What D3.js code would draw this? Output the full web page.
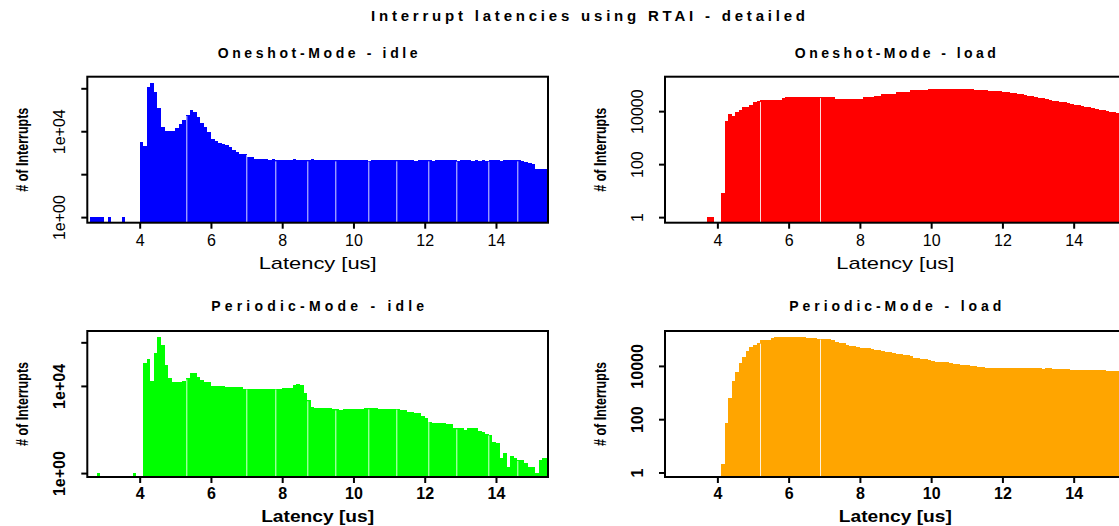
<!DOCTYPE html>
<html>
<head>
<meta charset="utf-8">
<script src="https://cdn.jsdelivr.net/npm/d3@7"></script>
<style>
  body { margin: 0; background: #fff; }
  svg { display: block; }
  text { font-family: "Liberation Sans", Arial, sans-serif; fill: #000; }
</style>
</head>
<body>
<svg></svg>
<script>
const binWidth = 0.1
const xDomain = [2.53, 15.46]
const xTicks = [4, 6, 8, 10, 12, 14]

const oneshotIdleStart = 2.6
const oneshotIdleCounts = [
  1, 1, 1, 1, 0, 1, 0, 0, 0, 1, 0, 0, 0, 0,
  3200, 2000, 1190000, 1800000, 690000, 117000, 15000, 10000, 10000, 10000,
  13600, 21000, 33000, 57000, 98000, 81000, 48000, 25000, 15000, 9500,
  4300, 3600, 2900, 2500, 2200, 1780, 1320, 1100, 870, 870,
  600, 600, 525, 525, 525, 525, 470, 525, 440, 440,
  440, 440, 440, 520, 440, 440, 440, 440, 520, 440,
  440, 450, 440, 440, 440, 440, 440, 440, 440, 440,
  440, 440, 440, 440, 430, 440, 440, 440, 440, 440,
  440, 440, 440, 440, 440, 440, 440, 425, 440, 440,
  440, 440, 425, 440, 440, 440, 440, 440, 440, 425,
  440, 440, 440, 425, 440, 430, 440, 425, 440, 440,
  440, 425, 440, 440, 440, 440, 440, 400, 370, 330,
  300, 178, 178, 178, 178]

const oneshotLoadStart = 3.7
const oneshotLoadCounts = [
  1, 1, 0, 0, 8, 4100, 7900, 6300, 8900, 11000, 13800, 14800, 17800,
  21400, 24000, 26300, 26300, 26300, 26300, 26300, 26300, 30200, 33900,
  33900, 33900, 33900, 33900, 33900, 33900, 33900, 33900, 33900, 33900,
  33900, 33900, 33900, 28800, 28800, 28800, 28800, 28800, 28800, 28800,
  28800, 33900, 33900, 33900, 38900, 38900, 42700, 42700, 42700, 42700,
  51300, 51300, 51300, 51300, 60300, 60300, 60300, 60300, 60300, 69200,
  69200, 69200, 69200, 69200, 69200, 69200, 69200, 69200, 69200, 69200,
  69200, 69200, 63100, 63100, 63100, 63100, 56200, 56200, 56200, 56200,
  53700, 51300, 49000, 46800, 44700, 42700, 39800, 38000, 36300, 34700,
  32400, 30900, 28800, 26900, 25100, 24000, 22400, 21400, 20000, 19100,
  17800, 16600, 15800, 14800, 13800, 12900, 12000, 11200, 10700, 10000,
  9550, 9120, 8510, 8130, 7760]

const periodicIdleStart = 2.8
const periodicIdleCounts = [
  1, 0, 0, 0, 0, 0, 0, 0, 0, 0, 1, 0, 0,
  115000, 180000, 16500, 340000, 1800000, 740000, 89000, 24000, 15000,
  15000, 15000, 16500, 22000, 40000, 40000, 24500, 18000, 14500, 14500,
  10000, 10000, 10000, 10000, 8500, 8500, 8500, 8500, 8500, 7600,
  7600, 7600, 7600, 7600, 7600, 7600, 7600, 7600, 7600, 7600,
  8000, 8000, 8000, 11000, 12000, 10500, 4600, 2200, 1100, 930,
  930, 930, 930, 930, 830, 830, 800, 830, 830, 870,
  830, 830, 830, 930, 930, 930, 930, 910, 910, 830,
  910, 910, 910, 780, 780, 650, 650, 550, 550, 420,
  320, 230, 205, 205, 205, 205, 180, 180, 112, 112,
  112, 95, 112, 112, 112, 89, 80, 59, 55, 27,
  23, 5, 8, 2, 6, 5, 4, 4, 3, 2,
  2, 1, 4, 5, 5]

const periodicLoadStart = 4.1
const periodicLoadCounts = [
  2, 71, 640, 2600, 6000, 13000, 21000, 36000, 50000,
  60000, 74000, 93000, 93000, 93000, 115000, 124000, 124000, 124000, 124000,
  124000, 124000, 124000, 124000, 124000, 110000, 110000, 110000, 105000, 100000,
  100000, 100000, 95000, 80000, 74000, 70000, 60000, 56000, 56000, 53000,
  48000, 48000, 45000, 42000, 40000, 38000, 35000, 33000, 33000, 31000,
  28000, 27000, 26000, 25000, 24000, 20000, 19000, 18000, 17500, 16500,
  15000, 14500, 14000, 14000, 13500, 13000, 12000, 11500, 11000, 11000,
  10500, 10000, 9500, 9100, 8900, 8500, 8300, 8100, 8100, 8100,
  8100, 8100, 8100, 8100, 8100, 8100, 8100, 8100, 8100, 8100,
  8100, 7900, 8000, 8000, 7800, 7800, 7800, 7800, 7700, 7100,
  7100, 7100, 7100, 7100, 6900, 6900, 6900, 6900, 6900, 6600,
  6600, 6600, 6600, 6600, 6600]

// thin light seams visible inside the filled bars
const idleSeams = [5.30, 6.98, 7.80, 8.71, 9.50, 10.41, 11.20, 12.09, 12.90, 13.79, 14.60]
const loadSeams = [5.19, 6.89]

const oneshotIdleTicks = [1, 1e2, 1e4, 1e6]
const oneshotIdleLabels = ["1e+00", "", "1e+04", ""]
const periodicIdleTicks = [1, 1e4, 1e6]
const periodicIdleLabels = ["1e+00", "1e+04", ""]
const loadTicks = [1, 100, 10000]
const loadLabels = ["1", "100", "10000"]

const W = 460.7
const H = 146

const panels = [
  { title: "Oneshot-Mode - idle", start: oneshotIdleStart, counts: oneshotIdleCounts, seams: idleSeams,
    color: "#0000ff", left: 87.3, top: 76.7, logDom: [-0.26, 6.54], ticks: oneshotIdleTicks, labels: oneshotIdleLabels, bold: false, titleLen: 200 },
  { title: "Oneshot-Mode - load", start: oneshotLoadStart, counts: oneshotLoadCounts, seams: loadSeams,
    color: "#ff0000", left: 665, top: 76.7, logDom: [-0.21, 5.3], ticks: loadTicks, labels: loadLabels, bold: false, titleLen: 201 },
  { title: "Periodic-Mode - idle", start: periodicIdleStart, counts: periodicIdleCounts, seams: idleSeams,
    color: "#00ff00", left: 87.3, top: 331, logDom: [-0.18, 6.52], ticks: periodicIdleTicks, labels: periodicIdleLabels, bold: true, titleLen: 213 },
  { title: "Periodic-Mode - load", start: periodicLoadStart, counts: periodicLoadCounts, seams: loadSeams,
    color: "#ffa500", left: 665, top: 331, logDom: [-0.17, 5.31], ticks: loadTicks, labels: loadLabels, bold: true, titleLen: 212 }
]

const svg = d3.select("svg")
  .attr("width", 1119)
  .attr("height", 526)

svg.append("text")
  .attr("x", 588)
  .attr("y", 21)
  .attr("text-anchor", "middle")
  .attr("font-size", 15)
  .attr("font-weight", "bold")
  .attr("textLength", 434)
  .attr("lengthAdjust", "spacing")
  .text("Interrupt latencies using RTAI - detailed")

const x = d3.scaleLinear().domain(xDomain).range([0, W])

panels.forEach((p, k) => {
  const y = d3.scaleLog().domain([10 ** p.logDom[0], 10 ** p.logDom[1]]).range([H, 0])
  const g = svg.append("g").attr("transform", `translate(${p.left},${p.top})`)

  g.append("clipPath").attr("id", "clip" + k)
    .append("rect").attr("width", W).attr("height", H)

  const bins = p.counts
    .map((c, i) => ({ x0: p.start + i * binWidth, c }))
    .filter(d => d.c > 0)

  const plot = g.append("g").attr("clip-path", `url(#clip${k})`)

  plot.selectAll("rect")
    .data(bins)
    .join("rect")
    .attr("x", d => x(d.x0))
    .attr("width", d => x(d.x0 + binWidth) - x(d.x0))
    .attr("y", d => y(d.c))
    .attr("height", d => H - y(d.c))
    .attr("fill", p.color)
    .attr("shape-rendering", "crispEdges")

  plot.selectAll("line")
    .data(p.seams)
    .join("line")
    .attr("x1", d => Math.round(x(d)) + 0.5)
    .attr("x2", d => Math.round(x(d)) + 0.5)
    .attr("y1", H)
    .attr("y2", d => y(p.counts[Math.floor((d - p.start) / binWidth + 1e-6)] || 1) + 1)
    .attr("stroke", "#fff")
    .attr("stroke-opacity", 0.85)
    .attr("stroke-width", 1)

  // x axis
  const xa = g.append("g")
    .attr("transform", `translate(0,${H})`)
    .call(d3.axisBottom(x).tickValues(xTicks).tickSize(6).tickPadding(p.bold ? 5 : 6).tickFormat(d3.format("d")))
  xa.select(".domain").remove()
  xa.selectAll("line").attr("stroke-width", 2)
  xa.selectAll("text")
    .attr("font-size", 16)
    .attr("font-weight", p.bold ? "bold" : "normal")
    .attr("font-family", "Liberation Sans, Arial, sans-serif")

  // y axis with rotated labels
  const ya = g.append("g")
    .call(d3.axisLeft(y).tickValues(p.ticks).tickSize(6).tickFormat((d, i) => p.labels[i]))
  ya.select(".domain").remove()
  ya.selectAll("line").attr("stroke-width", 2)
  ya.selectAll("text")
    .attr("font-size", 16)
    .attr("font-weight", p.bold ? "bold" : "normal")
    .attr("font-family", "Liberation Sans, Arial, sans-serif")
    .attr("text-anchor", "middle")
    .attr("transform", "rotate(-90)")
    .attr("x", 0)
    .attr("y", -22)
    .attr("dy", null)

  // frame
  g.append("rect")
    .attr("width", W)
    .attr("height", H)
    .attr("fill", "none")
    .attr("stroke", "#000")
    .attr("stroke-width", 2)

  g.append("text")
    .attr("x", W / 2)
    .attr("y", p.bold ? -19.6 : -18.7)
    .attr("text-anchor", "middle")
    .attr("font-size", 14)
    .attr("font-weight", "bold")
    .attr("textLength", p.titleLen)
    .attr("lengthAdjust", "spacing")
    .text(p.title)

  g.append("text")
    .attr("x", W / 2)
    .attr("y", H + (p.bold ? 45 : 46.3))
    .attr("text-anchor", "middle")
    .attr("font-size", 17)
    .attr("font-weight", p.bold ? "bold" : "normal")
    .attr("textLength", p.bold ? 113 : 118)
    .attr("lengthAdjust", "spacingAndGlyphs")
    .text("Latency [us]")

  g.append("text")
    .attr("transform", `translate(-59,${H / 2}) rotate(-90)`)
    .attr("text-anchor", "middle")
    .attr("font-size", 17)
    .attr("font-weight", "bold")
    .attr("textLength", 84)
    .attr("lengthAdjust", "spacingAndGlyphs")
    .text("# of Interrupts")
})
</script>
</body>
</html>
